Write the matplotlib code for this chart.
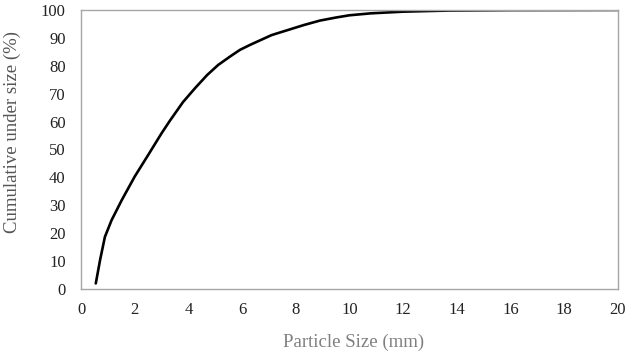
import matplotlib.pyplot as plt

# Particle size distribution
particle_size = [0.55, 0.71, 0.89, 1.14, 1.52, 2.0, 2.5, 3.0, 3.31, 3.8, 4.25, 4.7,
                 5.11, 5.55, 5.92, 6.3, 7.1, 8.3, 8.9, 9.5, 10.0, 10.8, 12.0, 13.7,
                 16.0, 20.0]
cumulative_under = [2.0, 10.4, 18.7, 24.7, 31.9, 40.3, 48.0, 55.8, 60.3, 67.0, 72.0, 76.7,
                    80.3, 83.3, 85.7, 87.5, 91.0, 94.6, 96.2, 97.3, 98.1, 98.8, 99.4, 99.8,
                    99.95, 100.0]

x_ticks = list(range(0, 21, 2))
y_ticks = list(range(0, 101, 10))

plt.rcParams['font.family'] = ['Liberation Serif', 'DejaVu Serif']

fig = plt.figure(figsize=(6.33, 3.54), dpi=100)
ax = fig.add_axes([0.128, 0.1836, 0.848, 0.7882])

ax.plot(particle_size, cumulative_under, color='black', linewidth=1.9,
        solid_capstyle='round', solid_joinstyle='round')

ax.set_xlim(0, 20)
ax.set_ylim(0, 100)
ax.set_xticks(x_ticks)
ax.set_yticks(y_ticks)
ax.tick_params(axis='both', length=0, labelsize=12, colors='#222222')
ax.tick_params(axis='x', pad=9)
ax.tick_params(axis='y', pad=11)

for spine in ax.spines.values():
    spine.set_color('#a6a6a6')
    spine.set_linewidth(1.0)

ax.set_xlabel('Particle Size (mm)', fontsize=13.5, color='#7f7f7f')
ax.set_ylabel('Cumulative under size (%)', fontsize=13.5, color='#555555')
ax.xaxis.set_label_coords(0.507, -0.16)
ax.yaxis.set_label_coords(-0.112, 0.563)

fig.savefig('out.png', dpi=100)
plt.close(fig)
